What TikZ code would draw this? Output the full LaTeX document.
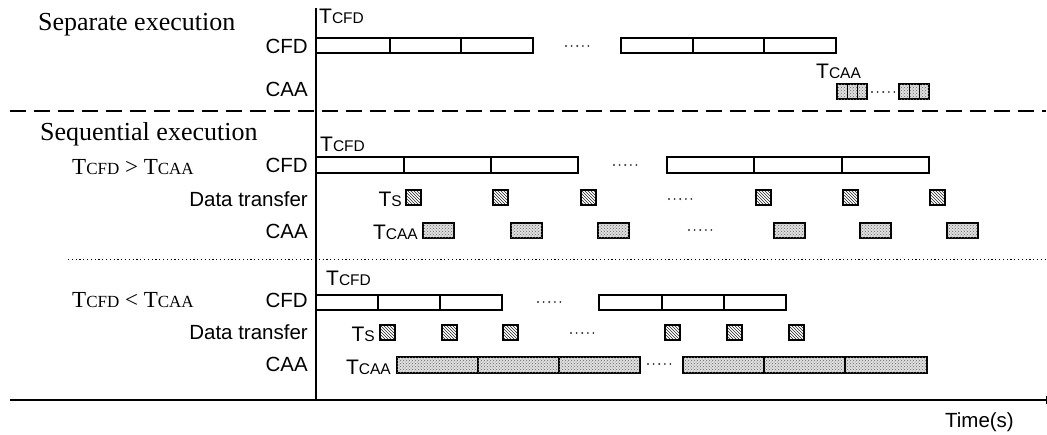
\documentclass[tikz,border=0pt]{standalone}
\usepackage{fontspec}
\setmainfont{Liberation Sans}
\newfontfamily\tms{Liberation Serif}
\usetikzlibrary{patterns}
\newcommand\sm[1]{{\fontsize{15.5}{15.5}\selectfont #1}}
\newcommand\smr[1]{{\fontsize{17}{17}\selectfont #1}}
\newcommand\dotrun[2]{\foreach \i in {0,...,4} \fill[black!80] (#1+\i*5.6,#2) circle (1.05pt);}
\begin{document}
\begin{tikzpicture}[x=1pt,y=-1pt,
  bar/.style={draw, line width=1.2pt, fill=white},
  hatchbox/.style={draw, line width=1.1pt, pattern=north west lines, pattern color=black!85},
  dotbox/.style={draw, line width=1.1pt, fill=gray!25, postaction={pattern=crosshatch dots, pattern color=black!60}},
  lab/.style={font=\fontsize{20.5}{20.5}\selectfont, anchor=east, inner sep=0pt},
  tlab/.style={font=\fontsize{21}{21}\selectfont, inner sep=0pt},
  head/.style={font=\tms\fontsize{26}{26}\selectfont, anchor=base west, inner sep=0pt},
  cond/.style={font=\tms\fontsize{23}{23}\selectfont, anchor=base west, inner sep=0pt},
  axis/.style={line width=1.2pt},
]
\useasboundingbox (0,0) rectangle (1047,434);

% axes and separators
\coordinate (vtop) at (316,8);
\coordinate (vbot) at (316,400);
\coordinate (hl) at (10,400);
\coordinate (hr) at (1046,400);
\draw[axis] (vtop) -- (vbot);
\draw[axis] (hl) -- (hr);
\draw[line width=1pt] ([yshift=-4]hr) -- ([yshift=4]hr);
\coordinate (dl) at (10,111);
\coordinate (dr) at (1046,111);
\draw[line width=1.2pt, dash pattern=on 16pt off 8pt] (dl) -- (dr);
\coordinate (ol) at (68,259);
\coordinate (or) at (1046,259);
\draw[line width=1pt, dash pattern=on 1.2pt off 2.6pt] (ol) -- (or);
\node[lab] (time) at (1014,422) {Time(s)};

% ---------- Separate execution ----------
\node[head] (h1) at (38,30) {Separate execution};
\node[lab] (cfd1) at (308,46) {CFD};
\node[lab] (caa1) at (308,89) {CAA};
\node[tlab, anchor=base west] (tcfd1) at (319,23) {T\sm{CFD}};
\foreach \a/\b in {316/390,390/461,461/533,621/693,693/764,764/836}
  \draw[bar] (\a,38) rectangle (\b,53);
\dotrun{566}{46}
\node[tlab, anchor=base west] (tcaa1) at (816,78) {T\sm{CAA}};
\foreach \a in {837,899}{
  \draw[dotbox] (\a,84) rectangle (\a+30,99);
  \draw[line width=0.9pt] (\a+10,84) -- (\a+10,99);
  \draw[line width=0.9pt] (\a+20,84) -- (\a+20,99);
}
\dotrun{872}{92}

% ---------- Sequential execution, TCFD > TCAA ----------
\node[head] (h2) at (40,140) {Sequential execution};
\node[cond] (c2) at (72,174) {T\smr{CFD} > T\smr{CAA}};
\node[lab] (cfd2) at (308,165) {CFD};
\node[lab] (dt2) at (308,199) {Data transfer};
\node[lab] (caa2) at (308,231) {CAA};
\node[tlab, anchor=base west] (tcfd2) at (320,151) {T\sm{CFD}};
\foreach \a/\b in {316/404,404/491,491/578,667/754,754/842,842/929}
  \draw[bar] (\a,157) rectangle (\b,173);
\dotrun{614}{165}
\node[tlab, anchor=base east] (ts2) at (402,206) {T\sm{S}};
\foreach \a in {406,493,581,756,843,930}
  \draw[hatchbox] (\a,190) rectangle (\a+15,205);
\dotrun{669}{199}
\node[tlab, anchor=base east] (tcaa2) at (418,239) {T\sm{CAA}};
\foreach \a in {423,511,598,774,860,947}
  \draw[dotbox] (\a,223) rectangle (\a+31,238);
\dotrun{689}{230}

% ---------- TCFD < TCAA ----------
\node[cond] (c3) at (72,307) {T\smr{CFD} < T\smr{CAA}};
\node[lab] (cfd3) at (308,300) {CFD};
\node[lab] (dt3) at (308,332) {Data transfer};
\node[lab] (caa3) at (308,364) {CAA};
\node[tlab, anchor=base west] (tcfd3) at (326,285) {T\sm{CFD}};
\foreach \a/\b in {316/378,378/440,440/502,599/662,662/724,724/786}
  \draw[bar] (\a,295) rectangle (\b,310);
\dotrun{538}{302}
\node[tlab, anchor=base east] (ts3) at (375,341) {T\sm{S}};
\foreach \a in {380,442,503,665,727,789}
  \draw[hatchbox] (\a,325) rectangle (\a+15,340);
\dotrun{571}{333}
\node[tlab, anchor=base east] (tcaa3) at (391,374) {T\sm{CAA}};
\foreach \a/\b in {397/478,478/559,559/640,683/764,764/845,845/927}
  \draw[dotbox] (\a,357) rectangle (\b,373);
\dotrun{648}{364}
\end{tikzpicture}
\end{document}
